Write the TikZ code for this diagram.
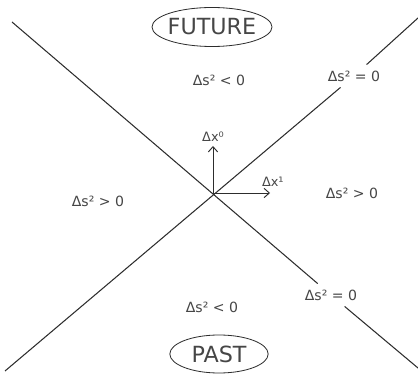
\documentclass[tikz,border=0pt]{standalone}
\usepackage{fontspec}
\setmainfont{DejaVu Sans}
\usetikzlibrary{arrows.meta, positioning, shapes.geometric}
\definecolor{inkgray}{RGB}{45,45,45}
\definecolor{textgray}{RGB}{70,70,70}

\begin{document}
\begin{tikzpicture}[
    x=0.03cm, y=-0.03cm,
    cone/.style={draw=inkgray, line width=0.9pt},
    axis/.style={draw=inkgray, line width=0.8pt,
        -{Straight Barb[length=4.5pt, width=8pt]}},
    region/.style={text=textgray, font=\fontsize{12}{14}\selectfont},
    nullcone/.style={region, inner sep=5pt},
    axlbl/.style={text=textgray, font=\fontsize{11}{13}\selectfont,
        inner sep=1pt},
    epoch/.style={
        ellipse, draw=inkgray, line width=0.7pt,
        inner xsep=-14pt, inner ysep=0pt,
        text=textgray,
        font=\fontsize{19}{22}\selectfont
    }
]
\useasboundingbox (0,0) rectangle (418,374);

% light cone ends and origin
\coordinate (o)  at (213,193);
\coordinate (tl) at (12,22);
\coordinate (br) at (418,368);
\coordinate (tr) at (418,18);
\coordinate (bl) at (5,371);

% labels on the cone
\node[nullcone] (nullup) at (354,76) {Δs² = 0};
\node[nullcone] (nulldn) at (331,295) {Δs² = 0};

\draw[cone] (tl) -- (nulldn);
\draw[cone] (nulldn) -- (br);
\draw[cone] (bl) -- (nullup);
\draw[cone] (nullup) -- (tr);

% regions
\node[region] (timeup) at (219,80)  {Δs² < 0};
\node[region] (timedn) at (212,307) {Δs² < 0};
\node[region] (spacel) at (98,201)  {Δs² > 0};
\node[region] (spacer) at (352,193) {Δs² > 0};

\node[epoch, minimum width=3.6cm, minimum height=1.17cm]
    (future) at (212,27) {FUTURE};
\node[epoch, minimum width=2.95cm, minimum height=1.14cm]
    (past) at (219,354) {PAST};

% axes
\coordinate (t0) at (213,146);
\coordinate (t1) at (270,193);
\draw[axis] (o) -- (t0);
\draw[axis] (o) -- (t1);
\node[axlbl, above=3pt of t0] (lx0) {Δx⁰};
\node[axlbl, above right=4pt and -8pt of t1] (lx1) {Δx¹};
\end{tikzpicture}
\end{document}
